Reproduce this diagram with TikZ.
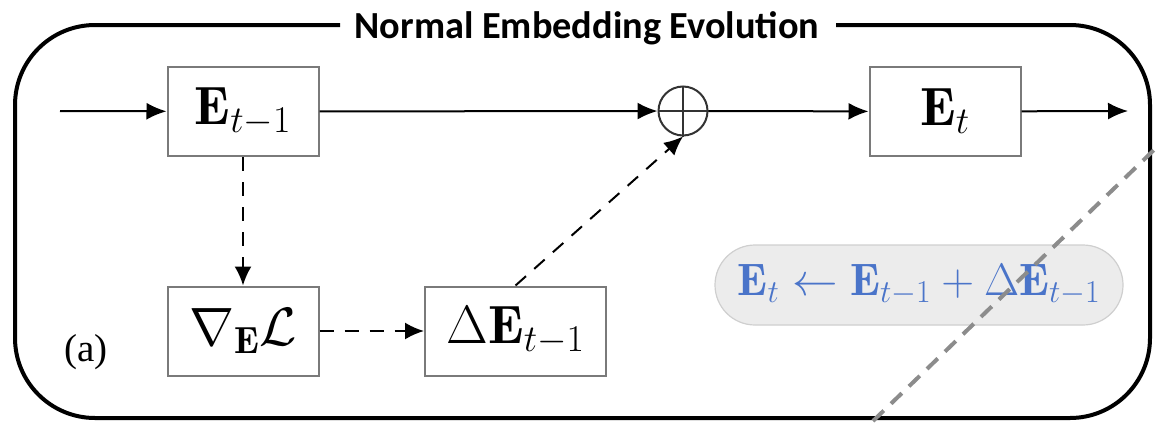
\RequirePackage{fix-cm}
\documentclass[tikz,border=0pt]{standalone}
\usepackage{amsmath}
\usepackage{fontspec}
\newfontfamily\titlefont{Carlito}
\newfontfamily\serifa{Liberation Serif}
\usetikzlibrary{arrows.meta}
\definecolor{boxgray}{HTML}{7A7A7A}
\definecolor{pillfill}{HTML}{ECECEC}
\definecolor{pilldraw}{HTML}{CFCFCF}
\definecolor{formblue}{HTML}{4A74C9}
\definecolor{dashgray}{HTML}{8C8C8C}
\begin{document}
\begin{tikzpicture}[x=1pt,y=-1pt,
  blockbox/.style={draw=boxgray,line width=2pt,minimum width=151pt,minimum height=89pt,inner sep=0pt,font=\fontsize{54}{60}\selectfont},
  flow/.style={line width=2pt,-{Latex[length=20pt,width=17pt]}},
  dflow/.style={line width=2pt,dash pattern=on 14pt off 11pt,-{Latex[length=19pt,width=17pt]}}]
\useasboundingbox (0,0) rectangle (1156,423);
% outer frame
\draw[line width=4pt,rounded corners=80pt] (340,25) -- (15,25) -- (15,418) -- (1150,418) -- (1150,25) -- (836,25);
\node[font=\titlefont\bfseries\fontsize{38.3}{42}\selectfont,inner sep=0pt,anchor=base] (title) at (587,38) {Normal Embedding Evolution};
% blocks
\node[blockbox] (eprev) at (243,111.5) {$\mathbf{E}_{t-1}$};
\node[blockbox] (ecur) at (945,111.5) {$\mathbf{E}_{t}$};
\node[blockbox] (grad) at (243,331) {$\nabla_{\mathbf{E}}\mathcal{L}$};
\node[blockbox,minimum width=181pt] (delta) at (515.5,331) {$\Delta\mathbf{E}_{t-1}$};
\node[draw=black!80,line width=2pt,circle,minimum size=49pt,inner sep=0pt] (sum) at (683,111) {};
\draw[black!80,line width=2pt] (sum.north) -- (sum.south) (sum.west) -- (sum.east);
\coordinate (in) at (60,111);
\coordinate (out) at (1128,111);
% connectors
\draw[flow] (in) -- (eprev);
\draw[flow] (eprev) -- (sum);
\draw[flow] (sum) -- (ecur);
\draw[flow] (ecur) -- (out);
\draw[dflow] (eprev) -- (grad);
\draw[dflow] (grad) -- (delta);
\draw[dflow] (delta.north) -- (sum.south);
% formula pill
\node[fill=pillfill,draw=pilldraw,line width=1.2pt,rounded corners=40pt,minimum width=408pt,minimum height=80pt,inner sep=0pt,text=formblue,font=\fontsize{45.5}{50}\selectfont] (formula) at (919,285) {$\mathbf{E}_t \leftarrow \mathbf{E}_{t-1} + \Delta\mathbf{E}_{t-1}$};
\coordinate (d1) at (873,421);
\coordinate (d2) at (1156,148);
\draw[dashgray,line width=4pt,dash pattern=on 15pt off 10pt] (d1) -- (d2);
\node[font=\serifa\fontsize{39}{42}\selectfont,inner sep=0pt] (lbl) at (86,352) {(a)};
\end{tikzpicture}
\end{document}
